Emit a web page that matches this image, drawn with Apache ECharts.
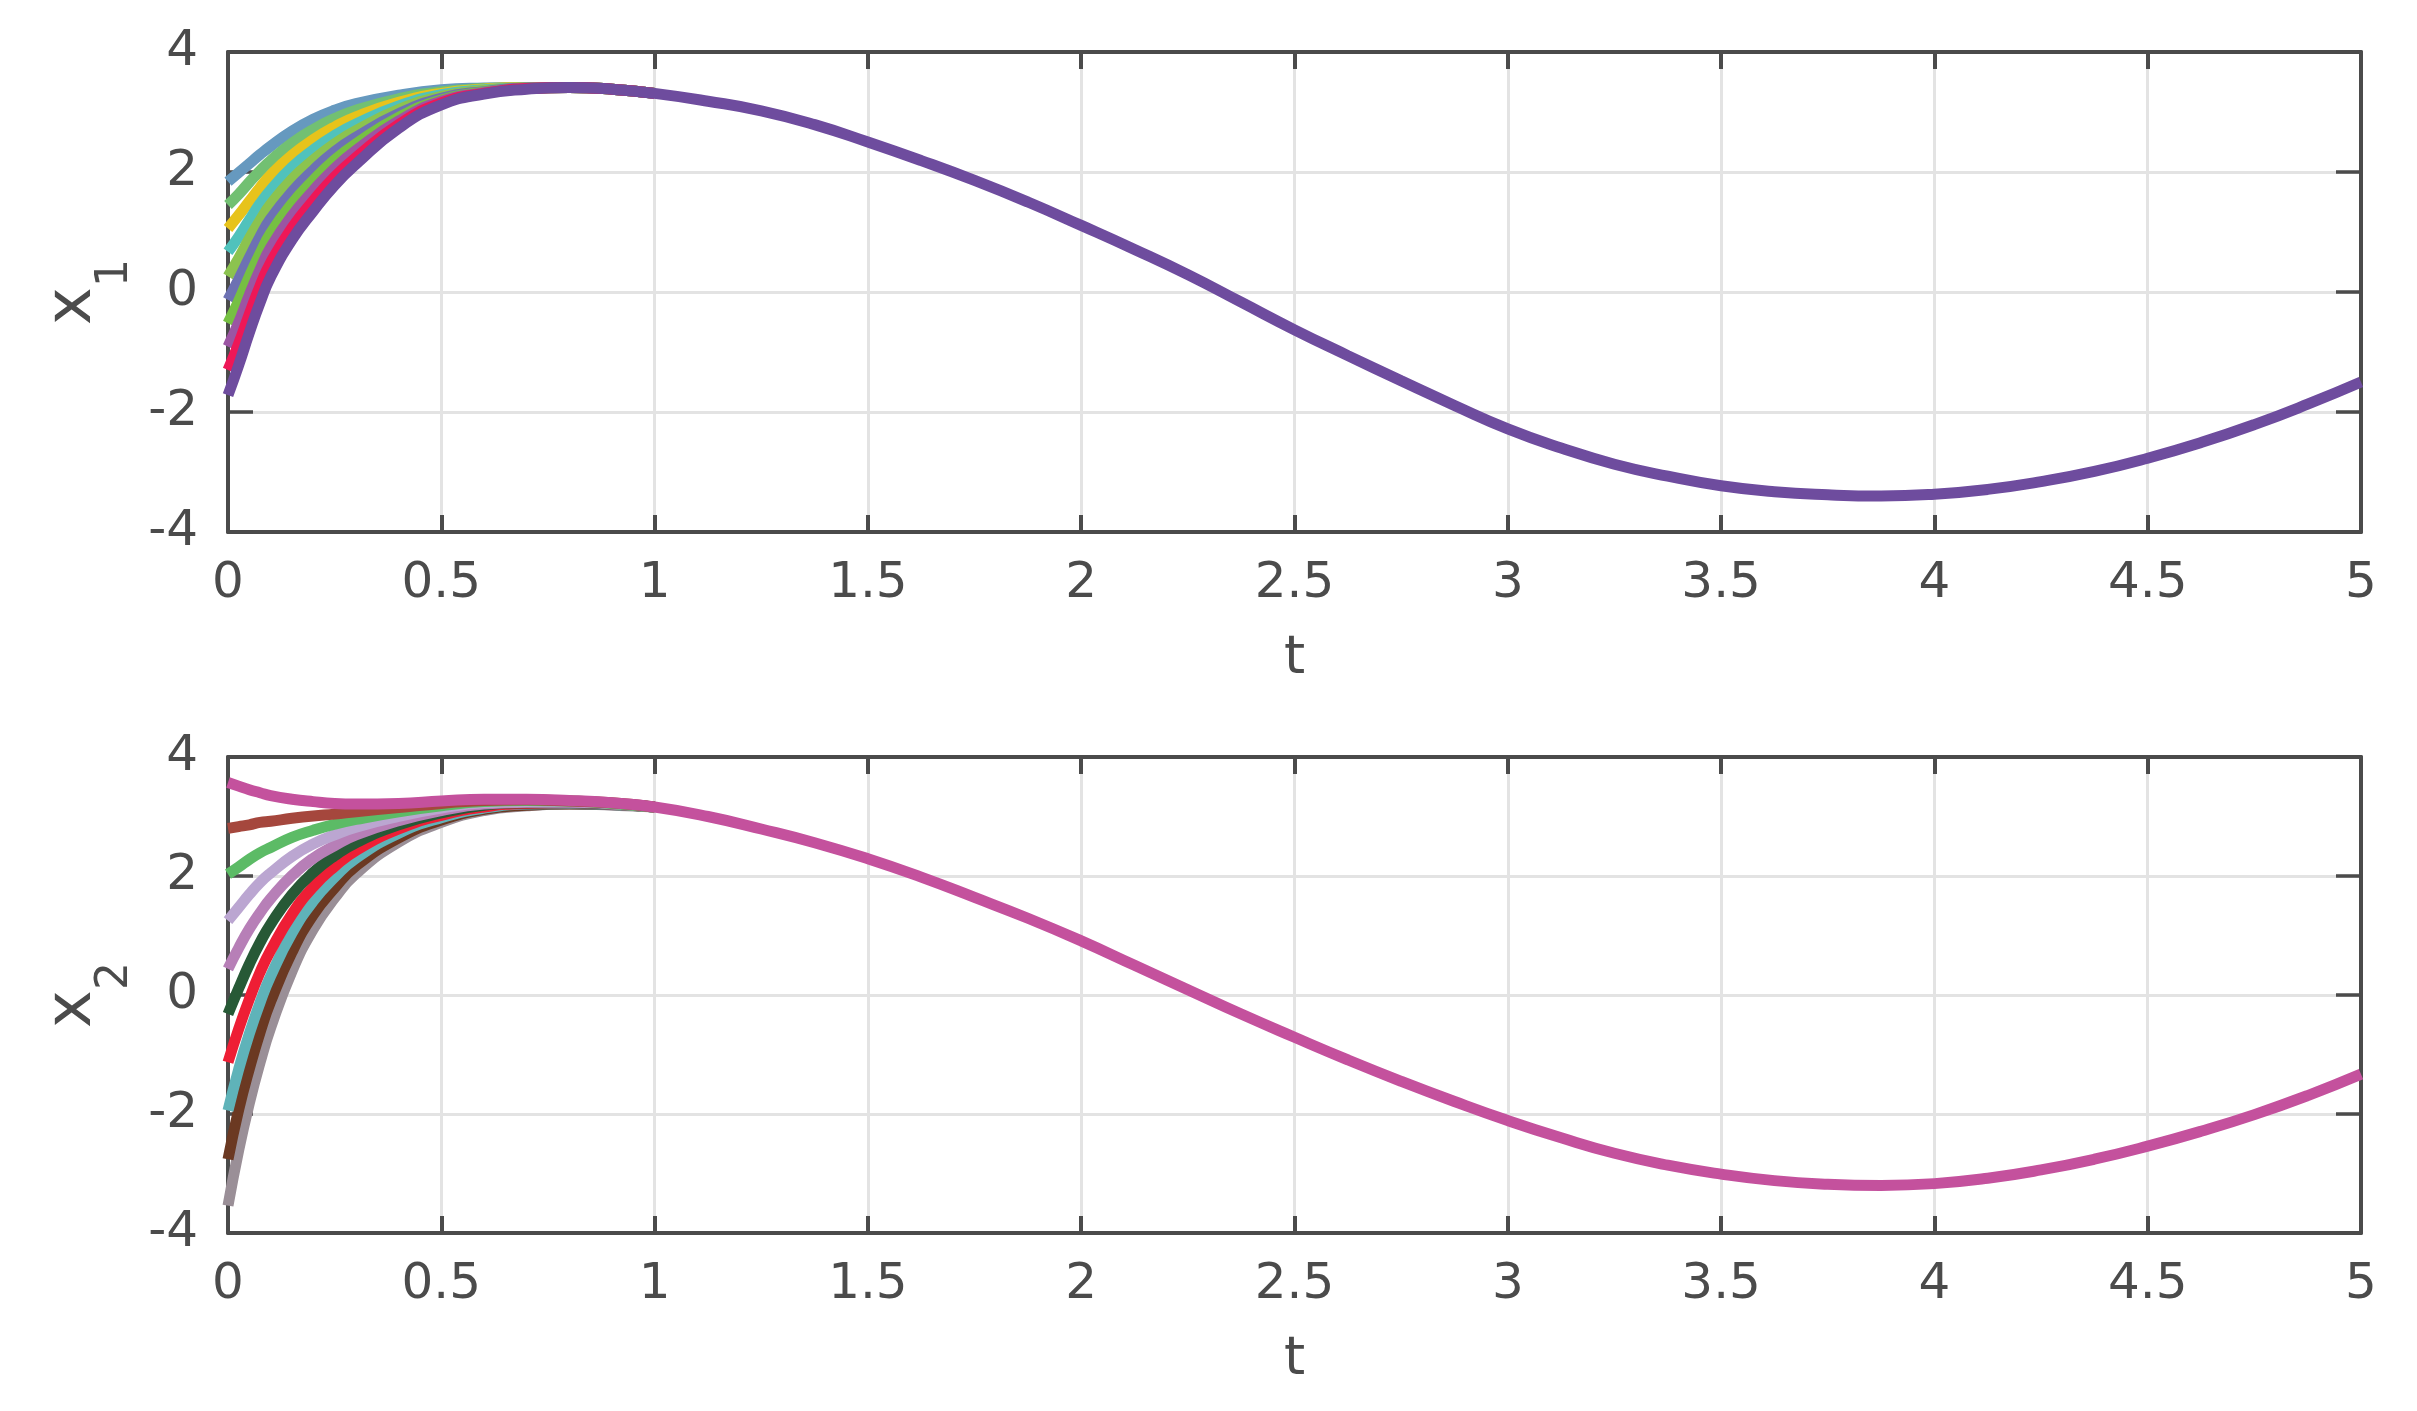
<!DOCTYPE html>
<html>
<head>
<meta charset="utf-8">
<script src="https://cdn.jsdelivr.net/npm/echarts/dist/echarts.min.js"></script>
<style>
html,body{margin:0;padding:0;background:#ffffff;}
#chart{width:2417px;height:1411px;}
</style>
</head>
<body>
<div id="chart"></div>
<script>
// ---- time samples ----
const T_EARLY = [0, 0.025, 0.05, 0.075, 0.1, 0.15, 0.2, 0.25, 0.3, 0.4, 0.5, 0.6, 0.7, 0.8, 0.9, 1.0];
const T_LATE  = [1.125, 1.25, 1.375, 1.5, 1.625, 1.75, 1.875, 2, 2.125, 2.25, 2.375, 2.5, 2.625, 2.75, 2.875, 3,
                 3.125, 3.25, 3.375, 3.5, 3.625, 3.75, 3.875, 4, 4.125, 4.25, 4.375, 4.5, 4.625, 4.75, 4.875, 5];

// ---- axis ticks ----
const X_MIN = 0, X_MAX = 5, X_STEP = 0.5;
const Y_MIN = -4, Y_MAX = 4, Y_STEP = 2;

// ---- x1 (top panel): early transients of each agent ----
const X1_C0 = [1.84,1.99,2.14,2.29,2.43,2.68,2.88,3.03,3.14,3.28,3.37,3.40,3.41,3.41,3.38,3.31];
const X1_C1 = [1.45,1.63,1.83,2.02,2.19,2.48,2.71,2.89,3.03,3.22,3.34,3.39,3.41,3.41,3.38,3.31];
const X1_C2 = [1.06,1.28,1.51,1.74,1.95,2.28,2.54,2.75,2.92,3.16,3.31,3.38,3.41,3.41,3.38,3.31];
const X1_C3 = [0.67,0.92,1.20,1.47,1.70,2.08,2.37,2.61,2.80,3.10,3.29,3.37,3.40,3.41,3.38,3.31];
const X1_C4 = [0.26,0.56,0.89,1.19,1.46,1.88,2.20,2.47,2.69,3.04,3.26,3.36,3.40,3.41,3.38,3.31];
const X1_C5 = [-0.13,0.21,0.57,0.92,1.22,1.67,2.03,2.34,2.58,2.97,3.23,3.34,3.40,3.41,3.38,3.31];
const X1_C6 = [-0.52,-0.15,0.26,0.64,0.98,1.47,1.86,2.20,2.47,2.91,3.20,3.33,3.39,3.41,3.38,3.31];
const X1_C7 = [-0.91,-0.51,-0.05,0.37,0.74,1.27,1.69,2.06,2.36,2.85,3.18,3.32,3.39,3.41,3.38,3.31];
const X1_C8 = [-1.30,-0.86,-0.37,0.10,0.49,1.07,1.52,1.92,2.24,2.79,3.15,3.31,3.39,3.41,3.38,3.31];
const X1_C9 = [-1.72,-1.22,-0.68,-0.18,0.25,0.87,1.35,1.78,2.13,2.73,3.12,3.30,3.38,3.41,3.38,3.31];
// common trajectory after convergence (t = 1.125 ... 5)
const X1_LATE = [3.18,3.02,2.79,2.50,2.19,1.86,1.50,1.11,0.71,0.29,-0.17,-0.63,-1.06,-1.48,-1.89,-2.28,
                 -2.60,-2.87,-3.07,-3.23,-3.33,-3.38,-3.40,-3.37,-3.29,-3.16,-2.99,-2.77,-2.51,-2.21,-1.87,-1.50];

// ---- x2 (bottom panel) ----
const X2_C0 = [3.57,3.51,3.45,3.40,3.35,3.29,3.25,3.22,3.21,3.22,3.26,3.29,3.29,3.27,3.23,3.16];
const X2_C1 = [2.80,2.83,2.86,2.90,2.92,2.97,3.01,3.04,3.08,3.15,3.22,3.27,3.28,3.26,3.23,3.16];
const X2_C2 = [2.03,2.15,2.28,2.39,2.48,2.65,2.77,2.87,2.95,3.08,3.18,3.25,3.27,3.26,3.22,3.16];
const X2_C3 = [1.25,1.47,1.69,1.89,2.05,2.33,2.54,2.69,2.82,3.00,3.14,3.23,3.25,3.25,3.22,3.16];
const X2_C4 = [0.44,0.79,1.11,1.38,1.62,2.01,2.30,2.51,2.69,2.93,3.10,3.21,3.24,3.24,3.21,3.16];
const X2_C5 = [-0.32,0.11,0.52,0.88,1.19,1.69,2.06,2.34,2.56,2.86,3.06,3.19,3.23,3.23,3.21,3.16];
const X2_C6 = [-1.13,-0.57,-0.07,0.38,0.75,1.36,1.82,2.16,2.43,2.79,3.02,3.16,3.22,3.23,3.21,3.16];
const X2_C7 = [-1.94,-1.25,-0.65,-0.13,0.32,1.04,1.58,1.98,2.30,2.72,2.98,3.14,3.21,3.22,3.20,3.16];
const X2_C8 = [-2.76,-1.93,-1.24,-0.63,-0.11,0.72,1.35,1.80,2.17,2.64,2.94,3.12,3.19,3.21,3.20,3.16];
const X2_C9 = [-3.54,-2.61,-1.82,-1.14,-0.55,0.40,1.11,1.63,2.04,2.57,2.90,3.10,3.18,3.21,3.19,3.16];
const X2_LATE = [3.00,2.79,2.56,2.29,1.98,1.64,1.29,0.91,0.50,0.09,-0.32,-0.71,-1.09,-1.45,-1.79,-2.11,
                 -2.40,-2.66,-2.86,-3.01,-3.12,-3.18,-3.20,-3.17,-3.08,-2.94,-2.76,-2.54,-2.29,-2.01,-1.69,-1.33];

// ---- colours ----
const X1_COLORS = ['#6699bf','#72c072','#e7c31b','#50c2bc','#8cc34f','#6d71b3','#76c043','#9b55a3','#ee1757','#6e4c9e'];
const X2_COLORS = ['#c4519d','#a5473d','#5cbb66','#bba6d1','#b77fb7','#275936','#ee1e35','#5fb3b9','#6b3922','#9a8f97'];

const X1_SETS = [X1_C0,X1_C1,X1_C2,X1_C3,X1_C4,X1_C5,X1_C6,X1_C7,X1_C8,X1_C9];
const X2_SETS = [X2_C0,X2_C1,X2_C2,X2_C3,X2_C4,X2_C5,X2_C6,X2_C7,X2_C8,X2_C9];

const FRAME = '#4b4b4b';
const GRIDC = '#e3e3e3';
const FONT = 'DejaVu Sans';
const LW = 11;

function pairs(ts, vs) { return ts.map((t, i) => [t, vs[i]]); }

function lineSeries(panel, name, color, data) {
  return {
    type: 'line', name: name,
    xAxisIndex: panel * 2, yAxisIndex: panel * 2,
    data: data, showSymbol: false, symbol: 'none',
    smooth: 0.5,
    lineStyle: { color: color, width: LW },
    itemStyle: { color: color },
    animation: false, silent: true
  };
}

const series = [];
// top panel: agents drawn in order, last agent on top carries the full trajectory
X1_SETS.forEach((vals, i) => {
  let d = pairs(T_EARLY, vals);
  if (i === X1_SETS.length - 1) d = d.concat(pairs(T_LATE, X1_LATE));
  series.push(lineSeries(0, 'x1_' + (i + 1), X1_COLORS[i], d));
});
// bottom panel: agent 0 drawn last (on top) with the full trajectory
for (let i = X2_SETS.length - 1; i >= 1; i--) {
  series.push(lineSeries(1, 'x2_' + (i + 1), X2_COLORS[i], pairs(T_EARLY, X2_SETS[i])));
}
series.push(lineSeries(1, 'x2_1', X2_COLORS[0], pairs(T_EARLY, X2_C0).concat(pairs(T_LATE, X2_LATE))));

function xAx(gridIndex, primary) {
  return {
    type: 'value', gridIndex: gridIndex, min: X_MIN, max: X_MAX, interval: X_STEP,
    position: primary ? 'bottom' : 'top',
    name: primary ? 't' : '', nameLocation: 'middle', nameGap: 100,
    nameTextStyle: { color: FRAME, fontFamily: FONT, fontSize: 54 },
    axisLine: { show: true, onZero: false, lineStyle: { color: FRAME, width: 4 } },
    axisTick: { show: true, inside: true, length: 17, lineStyle: { color: FRAME, width: 4 } },
    axisLabel: { show: primary, margin: 27, color: FRAME, fontFamily: FONT, fontSize: 50,
                 formatter: v => String(v) },
    splitLine: { show: primary, lineStyle: { color: GRIDC, width: 3 } }
  };
}
function yAx(gridIndex, primary, sub) {
  return {
    type: 'value', gridIndex: gridIndex, min: Y_MIN, max: Y_MAX, interval: Y_STEP,
    position: primary ? 'left' : 'right',
    name: primary ? '{x|x}{s|' + sub + '}' : '', nameLocation: 'middle', nameRotate: 90, nameGap: 116,
    nameTextStyle: { color: FRAME, fontFamily: FONT,
      rich: {
        x: { fontSize: 64, lineHeight: 64, verticalAlign: 'top', color: FRAME, fontFamily: FONT },
        s: { fontSize: 44, lineHeight: 44, verticalAlign: 'top', padding: [52, 0, 0, 0], color: FRAME, fontFamily: FONT }
      } },
    axisLine: { show: true, onZero: false, lineStyle: { color: FRAME, width: 4 } },
    axisTick: { show: true, inside: true, length: 25, lineStyle: { color: FRAME, width: 3.5 } },
    axisLabel: { show: primary, margin: 30, color: FRAME, fontFamily: FONT, fontSize: 50,
                 formatter: v => String(v) },
    splitLine: { show: primary, lineStyle: { color: GRIDC, width: 3 } }
  };
}

const chart = echarts.init(document.getElementById('chart'), null, { renderer: 'canvas' });
chart.setOption({
  backgroundColor: '#ffffff',
  animation: false,
  grid: [
    { left: 228, right: 56, top: 52, height: 480 },
    { left: 228, right: 56, top: 757, height: 476 }
  ],
  xAxis: [xAx(0, true), xAx(0, false), xAx(1, true), xAx(1, false)],
  yAxis: [yAx(0, true, '1'), yAx(0, false, '1'), yAx(1, true, '2'), yAx(1, false, '2')],
  series: series
});
</script>
</body>
</html>
